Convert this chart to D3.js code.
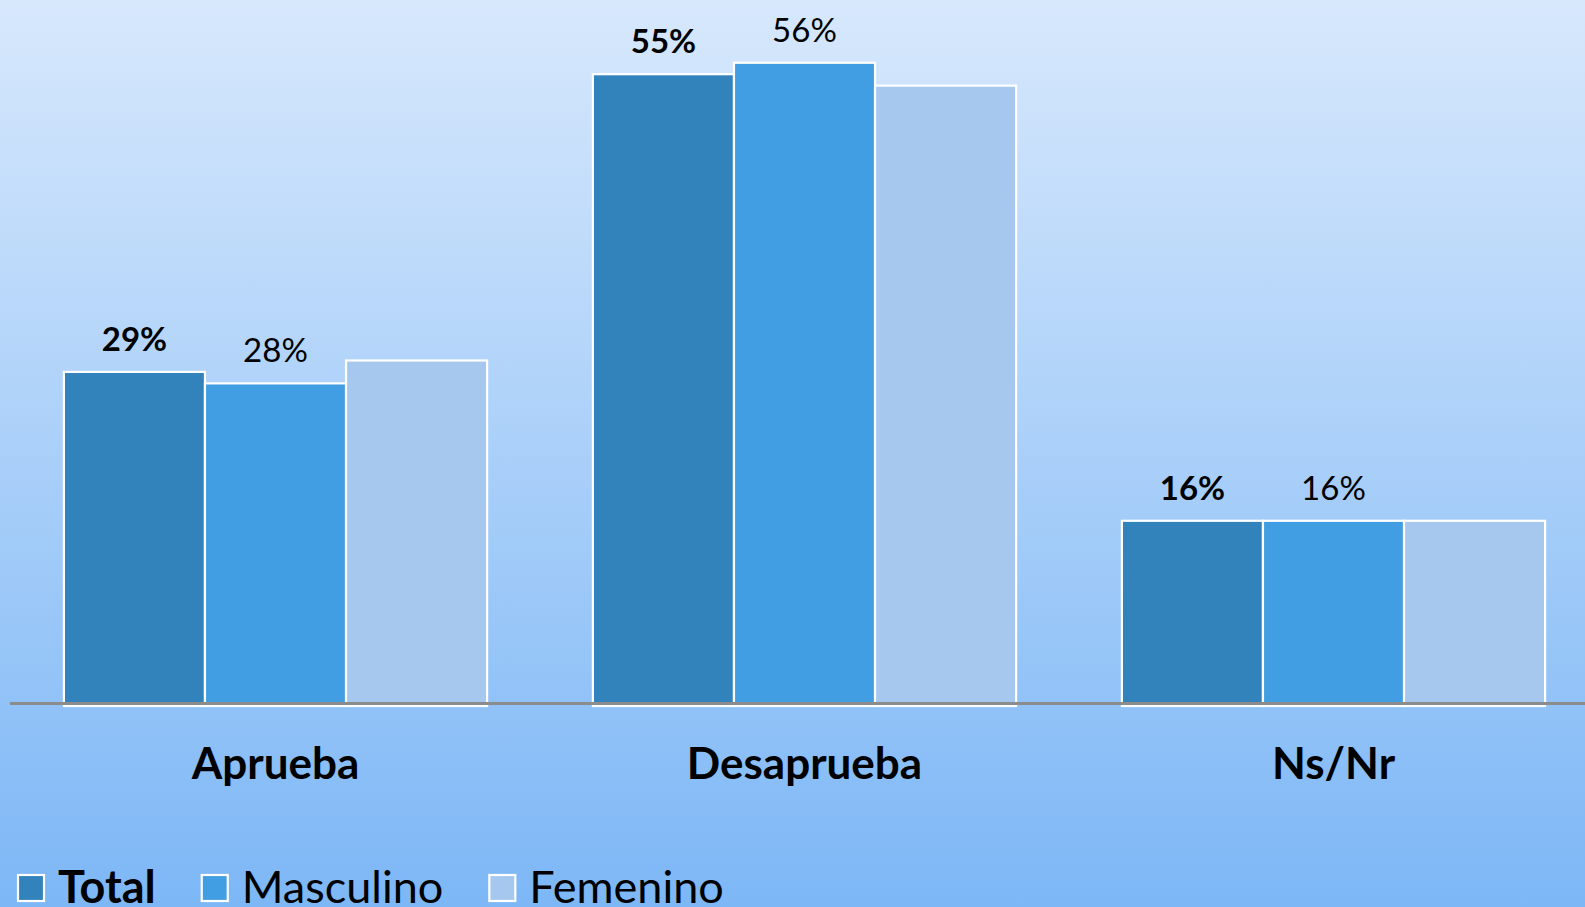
<!DOCTYPE html>
<html>
<head>
<meta charset="utf-8">
<script src="https://cdn.jsdelivr.net/npm/d3@7"></script>
<style>
  html, body { margin: 0; padding: 0; overflow: hidden; }
  svg { display: block; font-family: Lato, "Open Sans", sans-serif; }
</style>
</head>
<body>
<svg id="chart" width="1585" height="907"></svg>
<script>
// datos
const categories = ["Aprueba", "Desaprueba", "Ns/Nr"];
const seriesNames = ["Total", "Masculino", "Femenino"];
const total = [29, 55, 16];
const masculino = [28, 56, 16];
const femenino = [30, 54, 16];
const showLabel = [true, true, false]; // femenino sin etiquetas en el original

const seriesValues = [total, masculino, femenino];
const colors = ["#3282bc", "#419ee2", "#a6c8ee"];

var svg = d3.select("#chart"),
  width = +svg.attr("width"),
  height = +svg.attr("height");

/* fondo degradado */
var grad = svg.append("defs").append("linearGradient")
  .attr("id", "bg").attr("x1", 0).attr("y1", 0).attr("x2", 0).attr("y2", 1);
grad.append("stop").attr("offset", "0%").attr("stop-color", "#d7e8fc");
grad.append("stop").attr("offset", "100%").attr("stop-color", "#7db7f6");
svg.append("rect").attr("width", width).attr("height", height).attr("fill", "url(#bg)");

var x0 = d3.scaleBand()
  .domain(categories)
  .range([11, 1598])
  .paddingInner(0.2)
  .paddingOuter(0.1);

var x1 = d3.scaleBand()
  .domain(seriesNames)
  .range([0, x0.bandwidth()]);

var y = d3.scaleLinear()
  .domain([0, 61.48])
  .range([704, 0]);

var rows = categories.map((c, i) => ({
  cat: c,
  vals: seriesNames.map((s, j) => ({ serie: s, j: j, value: seriesValues[j][i] }))
}));

var groups = svg.selectAll("g.grupo").data(rows)
  .enter().append("g")
  .attr("class", "grupo")
  .attr("transform", d => "translate(" + x0(d.cat) + ",0)");

groups.selectAll("rect").data(d => d.vals)
  .enter().append("rect")
  .attr("x", d => x1(d.serie))
  .attr("y", d => y(d.value))
  .attr("width", x1.bandwidth())
  .attr("height", d => y(0) + 2 - y(d.value))
  .attr("fill", d => colors[d.j])
  .attr("stroke", "#fff")
  .attr("stroke-width", 2.2);

groups.selectAll("text.valor").data(d => d.vals.filter(v => showLabel[v.j]))
  .enter().append("text")
  .attr("class", "valor")
  .attr("x", d => x1(d.serie) + x1.bandwidth() / 2)
  .attr("y", d => y(d.value) - 21)
  .attr("text-anchor", "middle")
  .style("font-size", "33px")
  .style("font-weight", d => d.j === 0 ? "bold" : "normal")
  .attr("fill", "#000")
  .text(d => d.value + "%");

/* linea base */
svg.append("line")
  .attr("x1", 10).attr("x2", width)
  .attr("y1", y(0) - 0.5).attr("y2", y(0) - 0.5)
  .attr("stroke", "#8c8c8c")
  .attr("stroke-width", 3);

/* etiquetas de categoria */
svg.selectAll("text.cat").data(categories)
  .enter().append("text")
  .attr("class", "cat")
  .attr("x", d => x0(d) + x0.bandwidth() / 2)
  .attr("y", 779)
  .attr("text-anchor", "middle")
  .style("font-size", "44px")
  .style("font-weight", "bold")
  .attr("fill", "#000")
  .text(d => d);

/* leyenda */
var lx = 18;
seriesNames.forEach((s, j) => {
  svg.append("rect")
    .attr("x", lx).attr("y", 875)
    .attr("width", 26).attr("height", 26)
    .attr("fill", colors[j])
    .attr("stroke", "#fff")
    .attr("stroke-width", 2.2);
  var t = svg.append("text")
    .attr("x", lx + 40).attr("y", 903)
    .style("font-size", "45px")
    .style("font-weight", j === 0 ? "bold" : "normal")
    .attr("fill", "#000")
    .text(s);
  lx = lx + 40 + t.node().getComputedTextLength() + 46;
});
</script>
</body>
</html>
